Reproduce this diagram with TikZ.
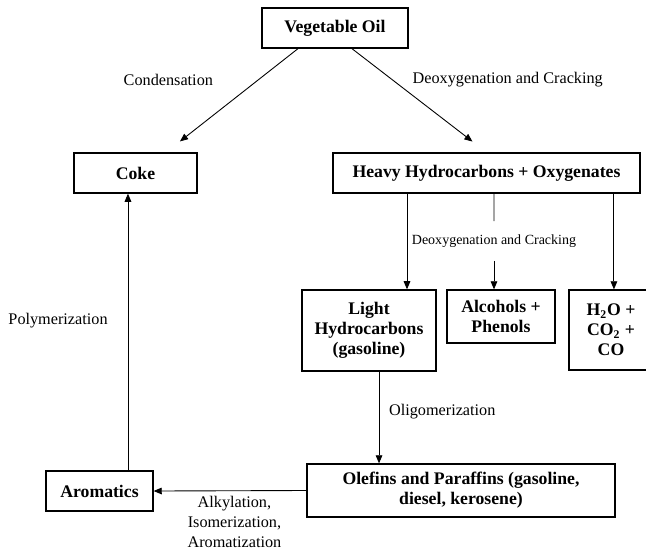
\documentclass[tikz,border=0pt]{standalone}
\usepackage{fontspec}
\setmainfont{Liberation Serif}
\usetikzlibrary{arrows.meta}
\tikzset{
  box/.style  = {draw, line width=0.9pt, align=center, inner sep=3pt,
                 font=\fontsize{12}{13.5}\selectfont\bfseries},
  arr/.style  = {-{Triangle[length=5.5pt,width=4.5pt]}, line width=0.6pt},
  lab/.style  = {font=\fontsize{11}{13.5}\selectfont, inner sep=1.5pt, align=center},
  slab/.style = {font=\fontsize{9.5}{11}\selectfont, inner xsep=1pt, inner ysep=9pt},
}

\begin{document}
\begin{tikzpicture}[x=0.678pt, y=-0.678pt]
  \useasboundingbox (0,0) rectangle (646,554);

  % ---------------- Feed and first split ----------------
  \node[box, minimum width=99pt,  minimum height=27.1pt] (veg)   at (335,28)    {Vegetable Oil};
  \node[box, minimum width=83.4pt, minimum height=27.1pt] (coke)  at (135.5,173) {Coke};
  \node[box, minimum width=208.1pt, minimum height=27.1pt] (heavy) at (486.5,173) {Heavy Hydrocarbons + Oxygenates};
  \draw[arr, shorten >=12pt] ([xshift=-25.1pt]veg.south) --
        node[lab, pos=0.3, left=29pt]{Condensation} ([xshift=20.7pt]coke.north);
  \draw[arr, shorten >=12pt] ([xshift=11.5pt]veg.south) --
        node[lab, pos=0.3, right=12pt]{Deoxygenation and Cracking} (heavy.north);

  % ---------------- Products of heavy fraction ----------------
  \node[box, minimum width=90.9pt, minimum height=54.9pt] (light) at (369,330.5) {Light\\Hydrocarbons\\(gasoline)};
  \node[box, minimum width=73.2pt, minimum height=35.9pt] (alco)  at (501,316.5) {Alcohols +\\Phenols};
  \node[box, minimum width=57pt, minimum height=54.2pt] (gases) at (611,330)   {H\textsubscript{2}O +\\CO\textsubscript{2} +\\CO};
  \node[slab] (midlab) at (494,241) {Deoxygenation and Cracking};
  \draw[arr] ([xshift=-53.9pt]heavy.south) -- ([xshift=-53.9pt]heavy.south |- light.north);
  \draw ([xshift=5.1pt]heavy.south) -- (midlab.north);
  \draw[arr] (midlab.south) -- (midlab.south |- alco.north);
  \draw[arr] ([xshift=86.4pt]heavy.south) -- ([xshift=86.4pt]heavy.south |- gases.north);

  % ---------------- Upgrading loop ----------------
  \node[box, minimum width=208.8pt, minimum height=35.9pt] (olef) at (461,490.5) {Olefins and Paraffins (gasoline,\\diesel, kerosene)};
  \node[box, minimum width=72.5pt, minimum height=27.1pt] (arom) at (99.5,491) {Aromatics};
  \draw[arr] ([xshift=6.8pt]light.south) --
        node[lab, pos=0.44, right=5pt]{Oligomerization} ([xshift=6.8pt]light.south |- olef.north);
  \draw[arr] (olef.west) --
        node[lab, below=2pt, xshift=3pt]{Alkylation,\\Isomerization,\\Aromatization} (arom.east);
  \draw[arr] ([xshift=19.3pt]arom.north) --
        node[lab, pos=0.54, left=12pt]{Polymerization} ([xshift=19.3pt]arom.north |- coke.south);
\end{tikzpicture}
\end{document}
